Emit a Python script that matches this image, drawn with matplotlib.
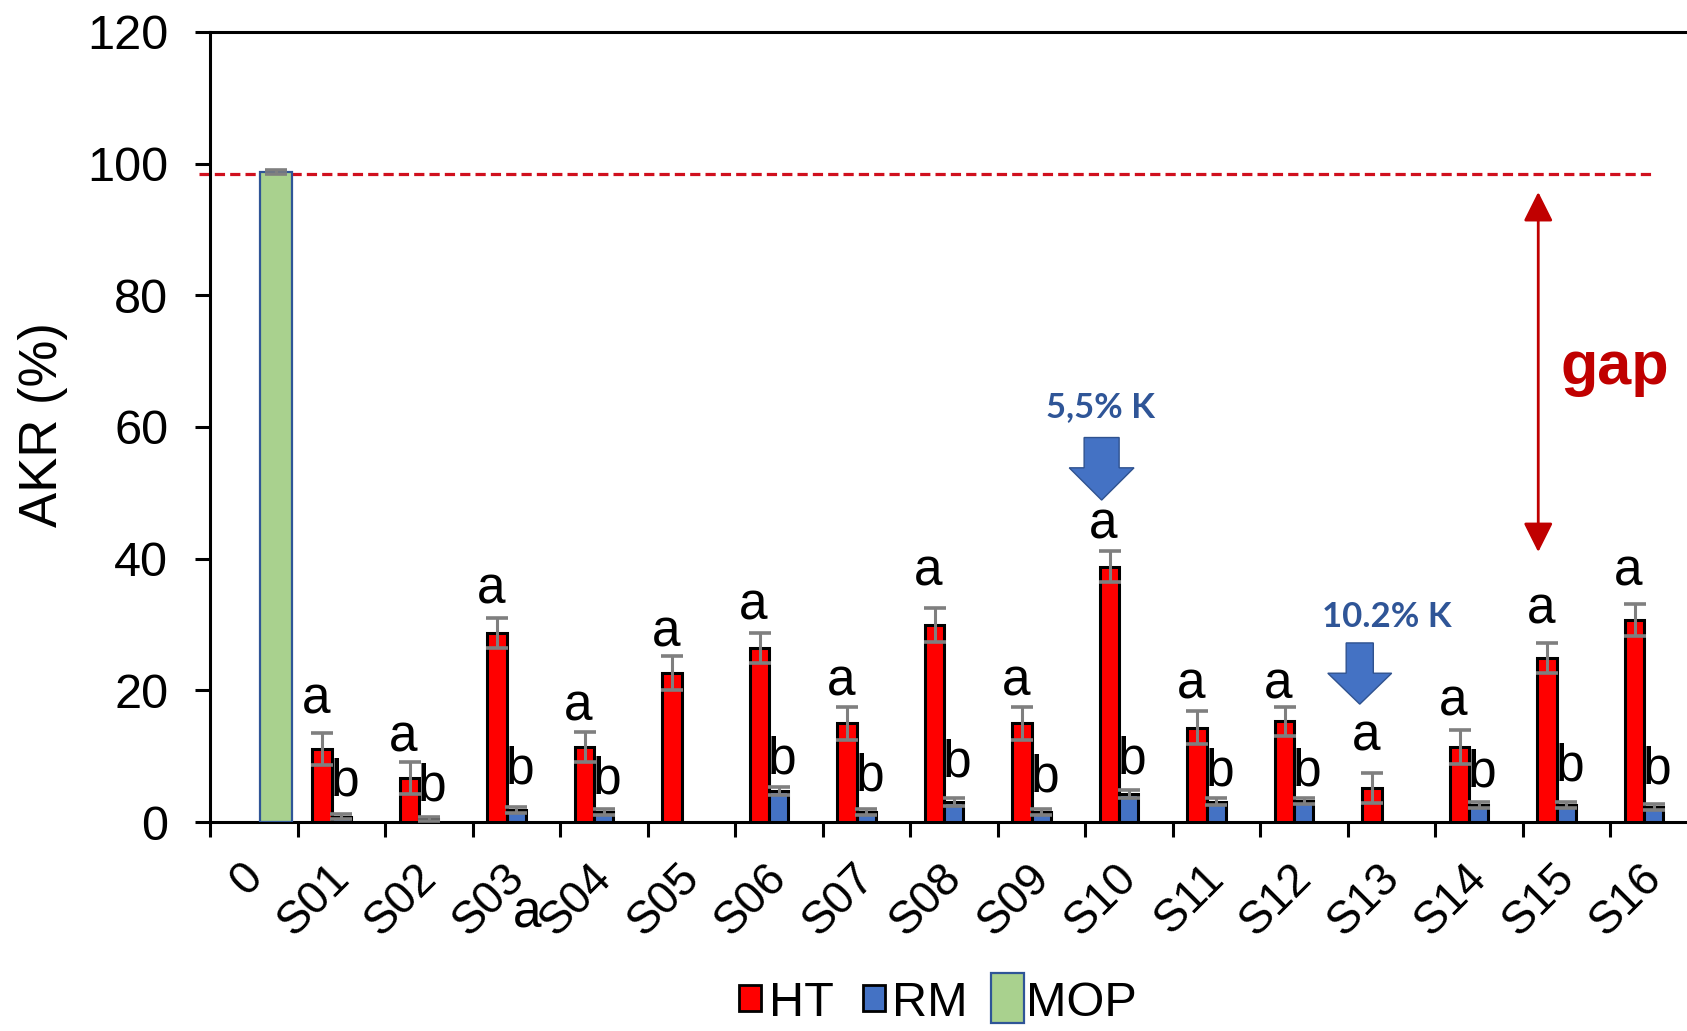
import matplotlib
matplotlib.use("Agg")
import matplotlib.pyplot as plt
import matplotlib.patches as mpatches
from matplotlib.legend_handler import HandlerPatch
from matplotlib.transforms import ScaledTranslation
import numpy as np

# ---- data -------------------------------------------------------------
categories = ["0", "S01", "S02", "S03", "S04", "S05", "S06", "S07", "S08",
              "S09", "S10", "S11", "S12", "S13", "S14", "S15", "S16"]

ht_values = [0, 11.1, 6.7, 28.7, 11.4, 22.6, 26.4, 15.0, 29.9,
             15.0, 38.8, 14.3, 15.3, 5.2, 11.4, 24.9, 30.7]
ht_errors = [0, 2.4, 2.4, 2.3, 2.3, 2.6, 2.3, 2.5, 2.6,
             2.5, 2.3, 2.5, 2.2, 2.3, 2.6, 2.3, 2.4]

rm_values = [0, 0.8, 0.5, 1.8, 1.5, 0, 4.7, 1.5, 3.0,
             1.5, 4.2, 3.1, 3.2, 0, 2.6, 2.6, 2.3]
rm_errors = [0, 0.4, 0.3, 0.5, 0.5, 0, 0.6, 0.5, 0.6,
             0.5, 0.6, 0.5, 0.5, 0, 0.5, 0.5, 0.5]

mop_values = [98.8] + [0] * 16
mop_errors = [0.3] + [0] * 16

mop_reference = 98.5

ht_letters = ["", "a", "a", "a", "a", "a", "a", "a", "a",
              "a", "a", "a", "a", "a", "a", "a", "a"]
ht_letter_y = [0, 18.5, 12.8, 35.3, 17.5, 28.7, 32.8, 21.3, 38.0,
               21.3, 45.1, 20.8, 20.8, 12.9, 18.2, 32.2, 38.0]
rm_letters = ["", "b", "b", "b", "b", "", "b", "b", "b",
              "b", "b", "b", "b", "", "b", "b", "b"]
rm_letter_y = [0, 6.1, 5.3, 7.9, 6.4, 0, 9.4, 6.8, 9.0,
               6.7, 9.4, 7.6, 7.6, 0, 7.4, 8.4, 7.9]

# ---- style ------------------------------------------------------------
plt.rcParams["font.family"] = ["Liberation Sans", "DejaVu Sans"]
HT_COLOR = "#FF0000"
RM_COLOR = "#4472C4"
MOP_COLOR = "#A9D18E"
MOP_EDGE = "#2F5597"
ERR_COLOR = "#7F7F7F"
GAP_RED = "#C00000"
NOTE_BLUE = "#2F5597"

W, H = 1687, 1031
fig = plt.figure(figsize=(W / 100, H / 100), dpi=100)
ax = fig.add_axes([210 / W, (H - 822) / H, (1697.5 - 210) / W, (822 - 32) / H])

x = np.arange(len(categories))
ht = np.array(ht_values, float)
rm = np.array(rm_values, float)
mop = np.array(mop_values, float)

HT_OFF, RM_OFF, MOP_OFF = -0.22, 0.0, 0.254
BAR_W, MOP_W = 0.22, 0.366

ht_i = ht > 0
rm_i = rm > 0
mop_i = mop > 0

ax.bar(x[mop_i] + MOP_OFF, mop[mop_i], width=MOP_W, color=MOP_COLOR,
       edgecolor=MOP_EDGE, linewidth=1.6, zorder=3)
ax.bar(x[ht_i] + HT_OFF, ht[ht_i], width=BAR_W, color=HT_COLOR,
       edgecolor="black", linewidth=2.2, zorder=3)
ax.bar(x[rm_i] + RM_OFF, rm[rm_i], width=BAR_W, color=RM_COLOR,
       edgecolor="black", linewidth=2.2, zorder=3)

err_kw = dict(fmt="none", ecolor=ERR_COLOR, elinewidth=2.2, capsize=8,
              capthick=2.6, zorder=4)
ax.errorbar(x[ht_i] + HT_OFF, ht[ht_i], yerr=np.array(ht_errors)[ht_i], **err_kw)
ax.errorbar(x[rm_i] + RM_OFF, rm[rm_i], yerr=np.array(rm_errors)[rm_i], **err_kw)
ax.errorbar(x[mop_i] + MOP_OFF, mop[mop_i], yerr=np.array(mop_errors)[mop_i], **err_kw)

# significance letters
for i in x:
    if ht_letters[i]:
        ax.text(i - 0.29, ht_letter_y[i], ht_letters[i], ha="center", va="center",
                fontsize=37, zorder=5)
    if rm_letters[i]:
        ax.text(i + 0.04, rm_letter_y[i], rm_letters[i], ha="center", va="center",
                fontsize=37, zorder=5)
ax.text(3.12, -14.0, "a", ha="center", va="center", fontsize=37, clip_on=False)

# MOP reference line
ax.plot([-0.626, 15.98], [mop_reference, mop_reference], color="#D0101E",
        lw=2.3, dashes=(3.2, 1.6), clip_on=False, zorder=2)

# gap arrow
ax.annotate("", xy=(14.68, 95.7), xytext=(14.68, 41.0),
            arrowprops=dict(arrowstyle="<|-|>,head_length=18,head_width=9",
                            color=GAP_RED, lw=2.0, shrinkA=0, shrinkB=0,
                            mutation_scale=1))
ax.text(14.93, 66.5, "gap", color=GAP_RED, fontsize=44, fontweight="bold",
        ha="left", va="baseline", clip_on=False)

# potassium content call-outs
for (xc, y0, y1, sw, hw, hl) in [(9.69, 58.4, 48.9, 0.40, 0.74, 4.9),
                                 (12.64, 27.2, 17.9, 0.31, 0.73, 4.7)]:
    ax.add_patch(mpatches.FancyArrow(xc, y0, 0, y1 - y0, width=sw, head_width=hw,
                                     head_length=hl, length_includes_head=True,
                                     facecolor=RM_COLOR, edgecolor="#2F528F",
                                     linewidth=1.0, zorder=5))
ax.text(9.68, 63.1, "5,5% K", color=NOTE_BLUE, fontsize=25, fontweight="bold",
        family=["Lato", "DejaVu Sans"], ha="center", va="center")
ax.text(12.95, 31.2, "10.2% K", color=NOTE_BLUE, fontsize=25, fontweight="bold",
        family=["Lato", "DejaVu Sans"], ha="center", va="center")

# axes
ax.set_xlim(-0.5, len(categories) - 0.5)
ax.set_ylim(0, 120)
ax.set_yticks(range(0, 121, 20))
ax.tick_params(axis="y", direction="out", length=11, width=2.2, labelsize=35, pad=19)
ax.set_xticks(x)
ax.set_xticklabels(categories, rotation=45, ha="right", va="top",
                   rotation_mode="anchor")
ax.tick_params(axis="x", which="major", length=0, labelsize=33, pad=24)
shift = ScaledTranslation(-10 / 72, 0, fig.dpi_scale_trans)
for lab in ax.get_xticklabels():
    lab.set_transform(lab.get_transform() + shift)
ax.set_xticks(np.arange(-0.5, len(categories), 1), minor=True)
ax.tick_params(axis="x", which="minor", direction="out", length=11, width=2.2)
for side in ["left", "bottom", "top"]:
    ax.spines[side].set_linewidth(2.2)
ax.spines["right"].set_visible(False)

fig.text(43 / W, 1 - 425 / H, "AKR (%)", rotation=90, ha="center", va="center",
         fontsize=38)


# legend
def tall_patch(legend, orig_handle, xdescent, ydescent, width, height, fontsize):
    w, h = width * 1.5, height * 1.9
    return mpatches.Rectangle((-xdescent + (width - w) / 2, -ydescent + (height - h) / 2),
                              w, h)


handles = [mpatches.Patch(facecolor=HT_COLOR, edgecolor="black", linewidth=2),
           mpatches.Patch(facecolor=RM_COLOR, edgecolor="black", linewidth=2),
           mpatches.Patch(facecolor=MOP_COLOR, edgecolor=MOP_EDGE, linewidth=1.6)]
fig.legend(handles, ["HT", "RM", "MOP"], ncol=3, frameon=False, fontsize=35,
           loc="center", bbox_to_anchor=(938 / W, 1 - 1003 / H),
           handlelength=0.45, handleheight=0.45, handletextpad=0.15,
           columnspacing=0.6,
           handler_map={handles[2]: HandlerPatch(patch_func=tall_patch)})

fig.savefig("out.png", dpi=100)
